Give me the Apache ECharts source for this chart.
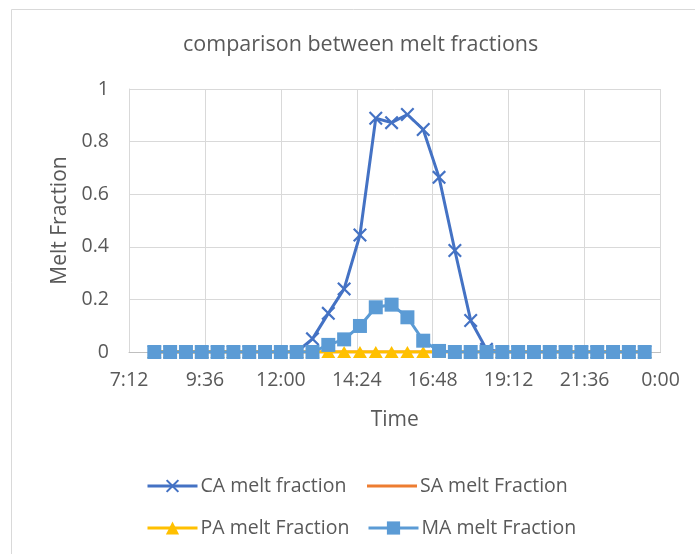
<!DOCTYPE html>
<html>
<head>
<meta charset="utf-8">
<script src="https://cdn.jsdelivr.net/npm/echarts@6/dist/echarts.min.js"></script>
<style>
  html, body { margin: 0; padding: 0; background: #fff; }
  #chart { width: 695px; height: 554px; }
</style>
</head>
<body>
<div id="chart"></div>
<script>
// Sample times (half-hourly readings)
const times = ['8:00','8:30','9:00','9:30','10:00','10:30','11:00','11:30',
               '12:00','12:30','13:00','13:30','14:00','14:30','15:00','15:30',
               '16:00','16:30','17:00','17:30','18:00','18:30','19:00','19:30',
               '20:00','20:30','21:00','21:30','22:00','22:30','23:00','23:30'];

// Melt fraction per configuration
const caMelt = [0,0,0,0,0,0,0,0,0,0,0.05,0.147,0.24,0.445,0.889,0.872,
                0.903,0.846,0.664,0.386,0.12,0.01,0,0,0,0,0,0,0,0,0,0];
const saMelt = [0,0,0,0,0,0,0,0,0,0,0,0,0,0,0,0,
                0,0,0,0,0,0,0,0,0,0,0,0,0,0,0,0];
const paMelt = [0,0,0,0,0,0,0,0,0,0,0,0,0,0,0,0,
                0,0,0,0,0,0,0,0,0,0,0,0,0,0,0,0];
const maMelt = [0,0,0,0,0,0,0,0,0,0,0,0.027,0.048,0.099,0.17,0.18,
                0.132,0.043,0.004,0,0,0,0,0,0,0,0,0,0,0,0,0];

// Time axis tick labels (every 2:24 starting at 7:12)
const timeTicks = ['7:12','9:36','12:00','14:24','16:48','19:12','21:36','0:00'];
const yTicks = ['0','0.2','0.4','0.6','0.8','1'];

const toMinutes = s => { const p = s.split(':'); return (+p[0]) * 60 + (+p[1]); };
const tickMin = toMinutes(timeTicks[0]);
const tickStep = 144;
const xMax = tickMin + tickStep * (timeTicks.length - 1);
const pairs = arr => times.map((t, i) => [toMinutes(t), arr[i]]);

const FONT = '"Open Sans", "Liberation Sans", sans-serif';
const GREY = '#595959';
const crossPath = 'path://M0,1.1L1.1,0L5,3.9L8.9,0L10,1.1L6.1,5L10,8.9L8.9,10L5,6.1L1.1,10L0,8.9L3.9,5Z';

const chart = echarts.init(document.getElementById('chart'), null, { renderer: 'canvas' });

const legendBase = {
  itemWidth: 50, itemHeight: 16.5, itemGap: 0,
  lineStyle: { width: 3 },
  textStyle: { color: GREY, fontFamily: FONT, fontSize: 19.5, padding: [0, 0, 0, -2] },
  padding: 0
};

chart.setOption({
  animation: false,
  backgroundColor: '#ffffff',
  graphic: [{
    type: 'rect', left: 11, top: 9, z: -10,
    shape: { width: 700, height: 560 },
    style: { fill: '#ffffff', stroke: '#d9d9d9', lineWidth: 1 }
  }],
  title: {
    text: 'comparison between melt fractions',
    left: 178, top: 29,
    textStyle: { color: GREY, fontFamily: FONT, fontSize: 21.5, fontWeight: 'normal' }
  },
  legend: [
    Object.assign({}, legendBase, { data: ['CA melt fraction'], left: 146, top: 476 }),
    // line-only entry: plain bar icon
    Object.assign({}, legendBase, {
      data: ['SA melt Fraction'], left: 367, top: 476, icon: 'rect', itemHeight: 3
    }),
    Object.assign({}, legendBase, { data: ['PA melt Fraction'], left: 146, top: 518 }),
    Object.assign({}, legendBase, { data: ['MA melt Fraction'], left: 367, top: 518 })
  ],
  grid: { left: 129, top: 89, width: 531.5, height: 263, containLabel: false },
  xAxis: {
    type: 'value', min: tickMin, max: xMax, interval: tickStep,
    name: 'Time', nameLocation: 'middle', nameGap: 58,
    nameTextStyle: { color: GREY, fontFamily: FONT, fontSize: 21 },
    axisLine: { show: true, lineStyle: { color: '#bfbfbf', width: 1 } },
    axisTick: { show: false },
    axisLabel: {
      color: GREY, fontFamily: FONT, fontSize: 19.5, margin: 18,
      formatter: v => timeTicks[Math.round((v - tickMin) / tickStep)] || ''
    },
    splitLine: { show: true, lineStyle: { color: '#d9d9d9', width: 1 } }
  },
  yAxis: {
    type: 'value', min: 0, max: 1, interval: 0.2,
    name: 'Melt Fraction', nameLocation: 'middle', nameGap: 56, nameRotate: 90,
    nameTextStyle: { color: GREY, fontFamily: FONT, fontSize: 21 },
    axisLine: { show: true, lineStyle: { color: '#d9d9d9', width: 1 } },
    axisTick: { show: false },
    axisLabel: {
      color: GREY, fontFamily: FONT, fontSize: 19.5, margin: 20,
      formatter: v => yTicks[Math.round(v / 0.2)]
    },
    splitLine: { show: true, lineStyle: { color: '#d9d9d9', width: 1 } }
  },
  series: [
    {
      name: 'CA melt fraction', type: 'line', data: pairs(caMelt),
      symbol: crossPath, symbolSize: 14, showAllSymbol: true,
      lineStyle: { color: '#4472C4', width: 3 },
      itemStyle: { color: '#4472C4' }, z: 2
    },
    {
      name: 'SA melt Fraction', type: 'line', data: pairs(saMelt),
      symbol: 'none',
      lineStyle: { color: '#ED7D31', width: 3 },
      itemStyle: { color: '#ED7D31' }, z: 3
    },
    {
      name: 'PA melt Fraction', type: 'line', data: pairs(paMelt),
      symbol: 'triangle', symbolSize: [14, 12], showAllSymbol: true,
      lineStyle: { color: '#FFC000', width: 3 },
      itemStyle: { color: '#FFC000' }, z: 4
    },
    {
      name: 'MA melt Fraction', type: 'line', data: pairs(maMelt),
      symbol: 'rect', symbolSize: 14, showAllSymbol: true,
      lineStyle: { color: '#5B9BD5', width: 3 },
      itemStyle: { color: '#5B9BD5' }, z: 5
    }
  ]
});
</script>
</body>
</html>
